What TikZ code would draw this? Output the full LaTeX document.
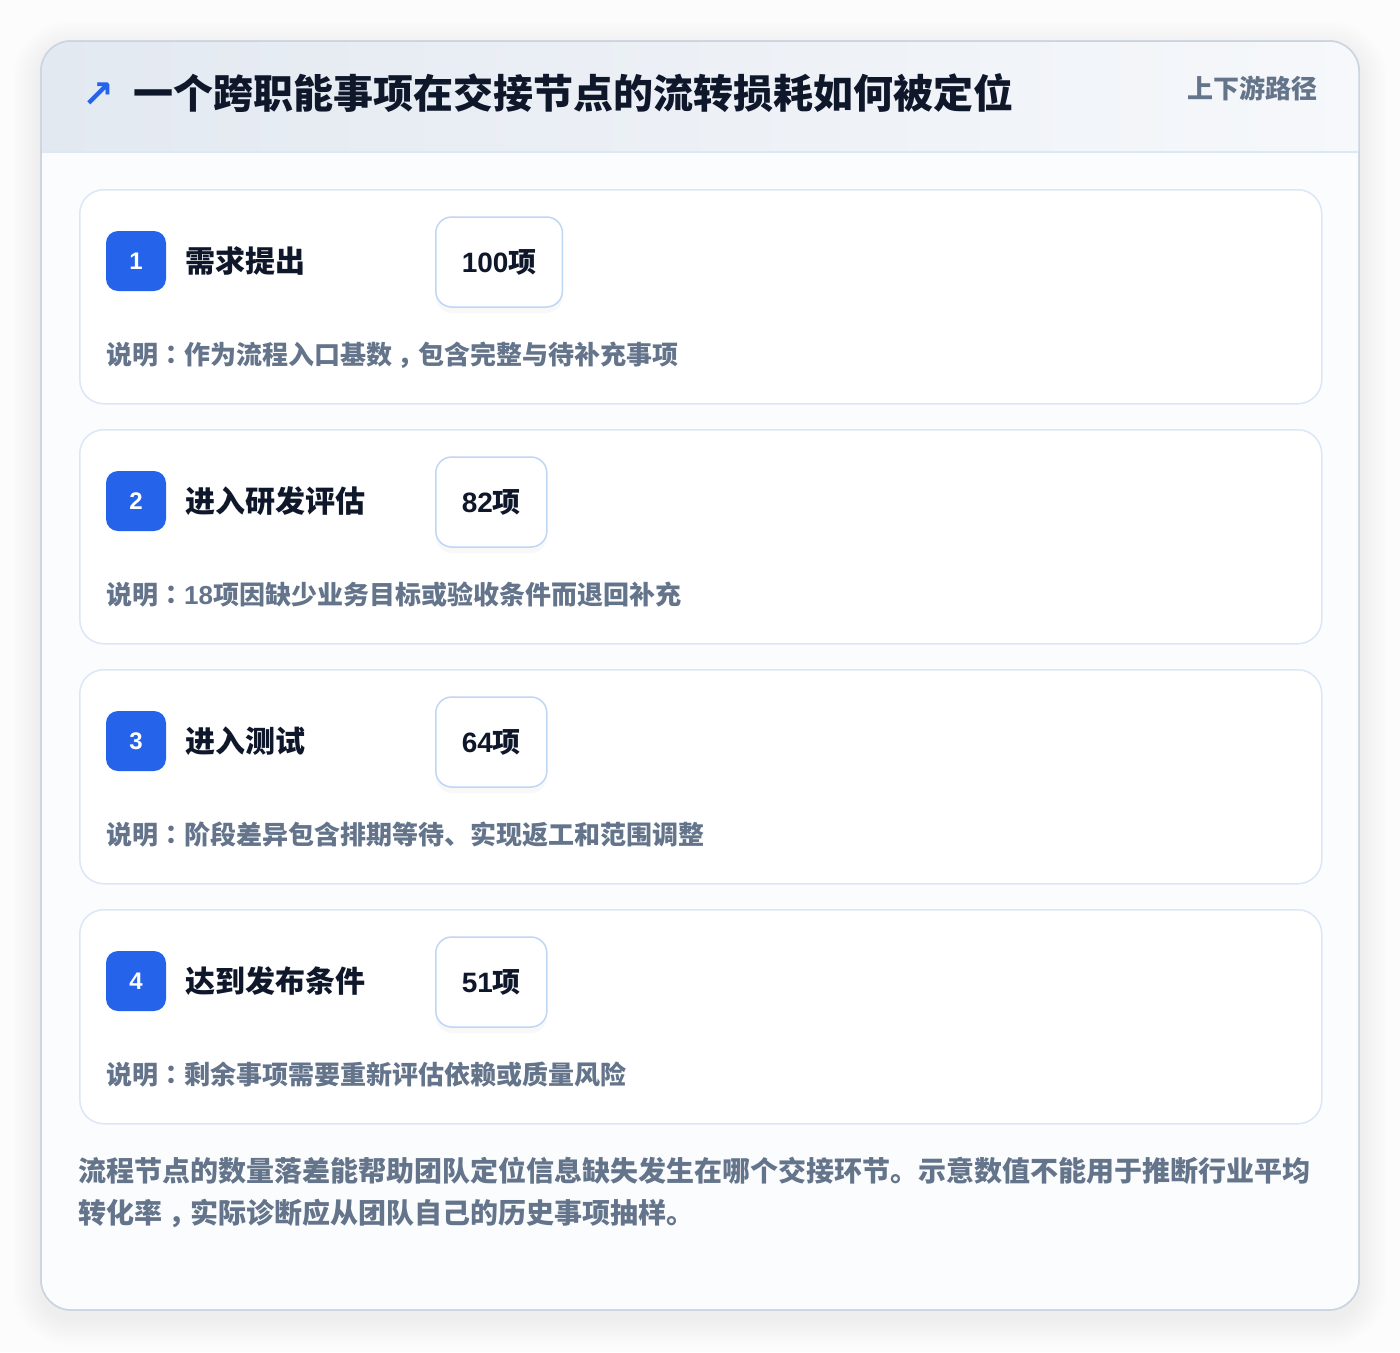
\documentclass[tikz,border=0pt]{standalone}
\usepackage{fontspec}
\setmainfont{Noto Sans CJK SC}
\newfontfamily\tcfont{Noto Sans CJK TC}
\newfontfamily\symfont{DejaVu Sans}
\newfontfamily\digitfont{Liberation Sans}
\usetikzlibrary{positioning}
\usetikzlibrary{shadows}

\definecolor{pagebg}{HTML}{FCFCFC}
\definecolor{panelbg}{HTML}{FBFCFE}
\definecolor{panelline}{HTML}{CBD5E1}
\definecolor{headleft}{HTML}{E3E9F1}
\definecolor{headright}{HTML}{F6F8FB}
\definecolor{headline}{HTML}{DCE8F6}
\definecolor{cardline}{HTML}{DBE7F7}
\definecolor{boxline}{HTML}{BFD7F5}
\definecolor{accent}{HTML}{2563EB}
\definecolor{inkdark}{HTML}{0F172A}
\definecolor{muted}{HTML}{64748B}

% centred full-width colon and comma
\newcommand{\ccolon}{{\tcfont ：}}
\newcommand{\ccomma}{\rlap{\hspace{0.22em}，}\hspace{1em}}
\newcommand{\digits}[1]{{\digitfont\bfseries #1}}

\tikzset{
  panel/.style={draw=panelline, fill=panelbg, rounded corners=30pt, line width=1.5pt,
    minimum width=1318pt, minimum height=1269pt},
  card/.style={draw=cardline, fill=white, rounded corners=24pt, line width=1.5pt,
    minimum width=1242pt, minimum height=214pt},
  badge/.style={fill=accent, rounded corners=12pt, minimum size=60pt, inner sep=0pt,
    text=white, font=\digitfont\fontsize{24}{24}\selectfont\bfseries},
  stagename/.style={anchor=west, inner sep=0pt, text=inkdark,
    font=\fontsize{30}{30}\selectfont\bfseries},
  countbox/.style={draw=boxline, fill=white, rounded corners=16pt, line width=1.5pt,
    minimum height=90pt, inner xsep=26pt, text=inkdark,
    font=\fontsize{28}{28}\selectfont\bfseries,
    drop shadow={opacity=0.05, shadow xshift=0pt, shadow yshift=-6pt}},
  note/.style={anchor=west, inner sep=0pt, text=muted,
    font=\fontsize{26}{26}\selectfont\bfseries}
}

\begin{document}
\begin{tikzpicture}[x=1pt,y=-1pt]
\useasboundingbox[fill=pagebg] (0,0) rectangle (1400,1352);
% soft shadow round the panel
\foreach \s in {2,4,...,28}
  \fill[black, opacity=0.005, rounded corners=30+\s] (41-\s,49-\s) rectangle (1359+\s,1318+\s);
\node[panel] (panel) at (700,675.5) {};
% header band
\begin{scope}
  \clip[rounded corners=30pt] (41,41) rectangle (1359,1310);
  \fill[left color=headleft, right color=headright] (41,41) rectangle (1359,152);
\end{scope}
\draw[headline, line width=1.5pt] (41,152) -- (1359,152);
\draw[panelline, line width=1.5pt, rounded corners=30pt] (41,41) rectangle (1359,1310);

\node[anchor=west, inner sep=0pt, text=accent, font=\symfont\fontsize{38}{38}\selectfont\bfseries] (arrow) at (82,95) {↗};
\node[anchor=west, inner sep=0pt, text=inkdark, font=\fontsize{40}{40}\selectfont\bfseries] (title) at (133,93) {一个跨职能事项在交接节点的流转损耗如何被定位};
\node[anchor=east, inner sep=0pt, text=muted, font=\fontsize{26}{26}\selectfont\bfseries] (tag) at (1318,88) {上下游路径};

% the four stages
\foreach \i/\name/\count/\text in {
    1/需求提出/100/说明\ccolon 作为流程入口基数\ccomma 包含完整与待补充事项,
    2/进入研发评估/82/说明\ccolon\digits{18}项因缺少业务目标或验收条件而退回补充,
    3/进入测试/64/说明\ccolon 阶段差异包含排期等待、实现返工和范围调整,
    4/达到发布条件/51/说明\ccolon 剩余事项需要重新评估依赖或质量风险}{
  \pgfmathsetmacro\top{189+(\i-1)*240}
  \node[card, anchor=north west] (card\i) at (79,\top) {};
  \node[badge] (badge\i) at (136,\top+72) {\i};
  \node[stagename] (name\i) at (185,\top+72) {\name};
  \node[countbox, anchor=west] (count\i) at (435,\top+73) {\digits{\count}项};
  \node[note] (note\i) at (106,\top+166) {\text};
}

\node[anchor=base west, inner sep=0pt, align=left, text=muted,
  font=\fontsize{28}{42}\selectfont\bfseries] (footer) at (78,1223)
  {流程节点的数量落差能帮助团队定位信息缺失发生在哪个交接环节。示意数值不能用于推断行业平均\\
   转化率\ccomma 实际诊断应从团队自己的历史事项抽样。};
\end{tikzpicture}
\end{document}
